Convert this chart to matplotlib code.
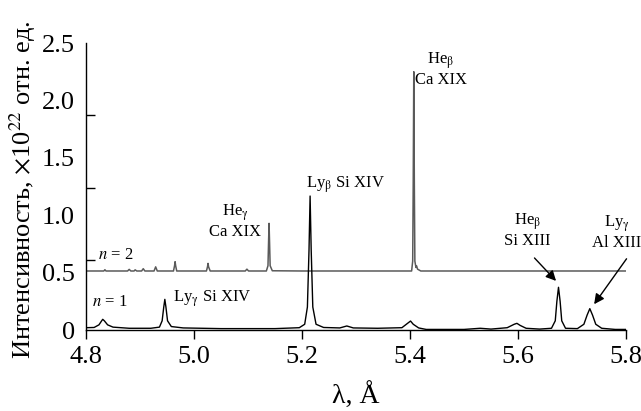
import numpy as np
import matplotlib
matplotlib.use("Agg")
import matplotlib.pyplot as plt

plt.rcParams['font.family'] = ['Liberation Serif', 'DejaVu Serif']
plt.rcParams['mathtext.fontset'] = 'stix'

# spectrum n = 1
lam1 = [4.800, 4.815, 4.824, 4.829, 4.831, 4.834, 4.840, 4.850, 4.880, 4.920,
        4.936, 4.941, 4.944, 4.946, 4.948, 4.951, 4.958, 4.980, 5.050, 5.150,
        5.195, 5.205, 5.210, 5.213, 5.215, 5.217, 5.220, 5.226, 5.240, 5.270,
        5.283, 5.295, 5.340, 5.385, 5.396, 5.401, 5.406, 5.416, 5.430, 5.500,
        5.530, 5.550, 5.580, 5.593, 5.598, 5.604, 5.615, 5.640, 5.662, 5.669,
        5.672, 5.675, 5.678, 5.681, 5.688, 5.710, 5.722, 5.728, 5.733, 5.738,
        5.744, 5.755, 5.780, 5.800]
int1 = [0.020, 0.022, 0.045, 0.080, 0.093, 0.080, 0.045, 0.025, 0.015, 0.015,
        0.025, 0.080, 0.200, 0.267, 0.200, 0.080, 0.030, 0.018, 0.012, 0.012,
        0.020, 0.050, 0.200, 0.700, 1.167, 0.700, 0.200, 0.050, 0.022, 0.018,
        0.035, 0.018, 0.015, 0.020, 0.060, 0.078, 0.050, 0.018, 0.005, 0.005,
        0.015, 0.008, 0.020, 0.050, 0.058, 0.040, 0.015, 0.008, 0.015, 0.080,
        0.250, 0.372, 0.250, 0.080, 0.015, 0.012, 0.050, 0.130, 0.186, 0.130,
        0.050, 0.015, 0.005, 0.005]

# spectrum n = 2
lam2 = [4.800, 4.833, 4.835, 4.837, 4.877, 4.880, 4.883, 4.889, 4.891, 4.894,
        4.903, 4.906, 4.909, 4.926, 4.929, 4.932, 4.962, 4.964, 4.965, 4.966,
        4.968, 5.023, 5.025, 5.026, 5.027, 5.030, 5.095, 5.098, 5.101, 5.134,
        5.137, 5.138, 5.139, 5.140, 5.141, 5.145, 5.200, 5.403, 5.405, 5.406,
        5.407, 5.408, 5.409, 5.411, 5.412, 5.414, 5.420, 5.800]
int2 = [0.514, 0.514, 0.525, 0.514, 0.514, 0.528, 0.514, 0.514, 0.524, 0.514,
        0.514, 0.534, 0.514, 0.514, 0.550, 0.514, 0.514, 0.560, 0.595, 0.560,
        0.514, 0.514, 0.550, 0.580, 0.550, 0.514, 0.514, 0.530, 0.514, 0.514,
        0.560, 0.750, 0.929, 0.750, 0.560, 0.516, 0.514, 0.514, 0.600, 1.300,
        2.250, 1.300, 0.600, 0.545, 0.560, 0.530, 0.514, 0.514]

xticks = [4.8, 5.0, 5.2, 5.4, 5.6, 5.8]
yticks = [0, 0.5, 1.0, 1.5, 2.0, 2.5]
ylabels = ['0', '0.5', '1.0', '1.5', '2.0', '2.5']

fig = plt.figure(figsize=(6.41, 4.11), dpi=100)
ax = fig.add_axes([86 / 641, 1 - 330 / 411, 540 / 641, 287 / 411])

ax.plot(lam2, int2, color='#5a5a5a', lw=1.1)
ax.plot(lam1, int1, color='black', lw=1.0)

ax.set_xlim(4.8, 5.8)
ax.set_ylim(0, 2.5)
for s in ['top', 'right']:
    ax.spines[s].set_visible(False)
for s in ['left', 'bottom']:
    ax.spines[s].set_linewidth(1.0)

ax.set_xticks(xticks)
ax.set_xticklabels(['%.1f' % v for v in xticks])
ax.tick_params(axis='x', direction='out', length=6.5, width=1.0, pad=5, labelsize=19)
ax.set_yticks(yticks)
ax.set_yticklabels(ylabels)
ax.tick_params(axis='y', which='major', length=0, pad=8, labelsize=19)
ax.set_yticks([0, 0.61, 1.24, 1.873, 2.5], minor=True)
ax.tick_params(axis='y', which='minor', direction='in', length=6.5, width=1.0)

ax.set_xlabel('λ, Å', fontsize=20, labelpad=11)
ax.set_ylabel(r'Интенсивность, $\times$10$^{22}$ отн. ед.', fontsize=19, labelpad=4)
ax.yaxis.set_label_coords(-0.088, 0.49)

fs = 12
ls = 1.1
ax.text(4.823, 0.62, r'$n$ = 2', fontsize=fs)
ax.text(4.812, 0.205, r'$n$ = 1', fontsize=fs)
ax.text(4.962, 0.245, r'Ly$_\mathrm{\gamma}$ Si XIV', fontsize=fs)
ax.text(5.076, 0.82, 'He$_\\mathrm{\\gamma}$\nCa XIX', fontsize=fs, ha='center', linespacing=ls)
ax.text(5.208, 1.24, r'Ly$_\mathrm{\beta}$ Si XIV', fontsize=fs)
ax.text(5.457, 2.14, 'He$_\\mathrm{\\beta}$\nCa XIX', fontsize=fs, ha='center', linespacing=ls)
ax.text(5.617, 0.74, 'He$_\\mathrm{\\beta}$\nSi XIII', fontsize=fs, ha='center', linespacing=ls)
ax.text(5.783, 0.72, 'Ly$_\\mathrm{\\gamma}$\nAl XIII', fontsize=fs, ha='center', linespacing=ls)

ax.annotate('', xy=(5.674, 0.41), xytext=(5.627, 0.645),
            arrowprops=dict(arrowstyle='-|>', color='black', lw=1.0, mutation_scale=15))
ax.annotate('', xy=(5.738, 0.205), xytext=(5.804, 0.64),
            arrowprops=dict(arrowstyle='-|>', color='black', lw=1.0, mutation_scale=15),
            annotation_clip=False)

fig.savefig('out.png', dpi=100)
